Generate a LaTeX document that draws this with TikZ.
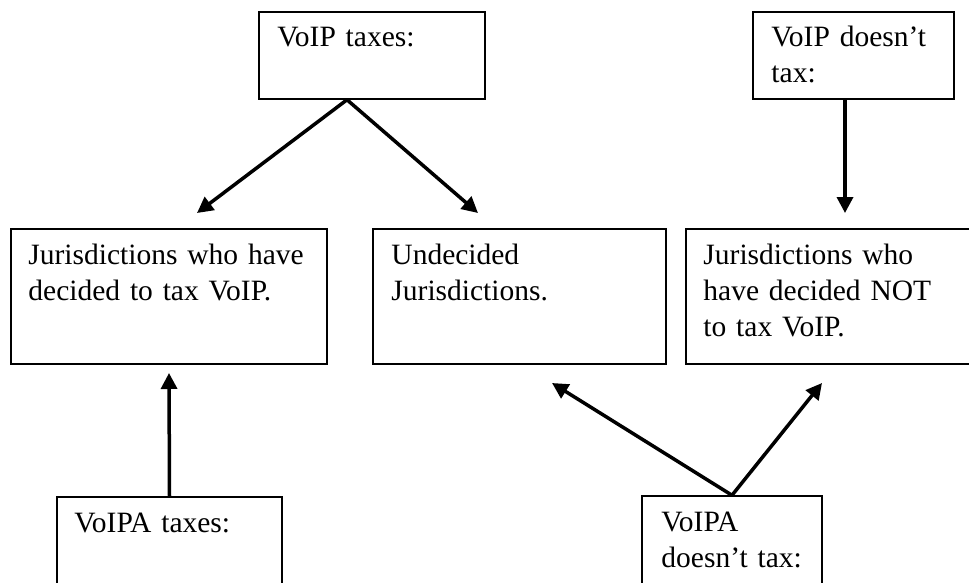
\documentclass[tikz,border=0pt]{standalone}
\usepackage{fontspec}
\setmainfont{Liberation Serif}
\usetikzlibrary{arrows.meta}
\begin{document}
\begin{tikzpicture}[x=1pt,y=-1pt,
    box/.style={draw,line width=1.5pt,rectangle,inner sep=0pt},
    txt/.style={anchor=base west,inner sep=0pt,align=left,text width=320pt,
      font=\fontsize{29.5}{36}\selectfont},
    arr/.style={line width=3.5pt,-{Triangle[length=16pt,width=16pt]}}]
      \useasboundingbox (0,0) rectangle (969,582);
      % top row
      \node[box,minimum width=226pt,minimum height=87pt] (vtax) at (372,55.5) {};
      \node[box,minimum width=201pt,minimum height=87pt] (vnotax) at (853.5,55.5) {};
      % middle row
      \node[box,minimum width=316pt,minimum height=135pt] (jtax) at (169,296.5) {};
      \node[box,minimum width=293pt,minimum height=135pt] (undec) at (519.5,296.5) {};
      \node[box,minimum width=299pt,minimum height=135pt] (jnotax) at (835.5,296.5) {};
      % bottom row
      \node[box,minimum width=225pt,minimum height=103pt] (atax) at (169.5,548.5) {};
      \node[box,minimum width=180pt,minimum height=104pt] (anotax) at (732,548) {};
      % texts
      \node[txt] (vtaxt) at ([xshift=19pt,yshift=-35pt]vtax.north west) {VoIP taxes:};
      \node[txt] (vnotaxt) at ([xshift=19pt,yshift=-35pt]vnotax.north west) {VoIP doesn't\\tax:};
      \node[txt] (jtaxt) at ([xshift=18pt,yshift=-36pt]jtax.north west) {Jurisdictions who have\\decided to tax VoIP.};
      \node[txt] (undect) at ([xshift=19pt,yshift=-36pt]undec.north west) {Undecided\\Jurisdictions.};
      \node[txt] (jnotaxt) at ([xshift=18pt,yshift=-36pt]jnotax.north west) {Jurisdictions who\\have decided NOT\\to tax VoIP.};
      \node[txt] (ataxt) at ([xshift=18pt,yshift=-36pt]atax.north west) {VoIPA taxes:};
      \node[txt] (anotaxt) at ([xshift=20pt,yshift=-36pt]anotax.north west) {VoIPA\\doesn't tax:};
      % arrow ends
      \coordinate (jtaxin) at (197,213);
      \coordinate (undecin) at (478,213);
      \coordinate (jnotaxin) at (845,213);
      \coordinate (jtaxup) at (169,373);
      \coordinate (undecup) at (552,383);
      \coordinate (jnotaxup) at (822,383);
      \draw[arr] ([xshift=-25pt]vtax.south) -- (jtaxin);
      \draw[arr] ([xshift=-25pt]vtax.south) -- (undecin);
      \draw[arr] ([xshift=-8.5pt]vnotax.south) -- (jnotaxin);
      \draw[arr] (atax.north) -- (jtaxup);
      \draw[arr] (anotax.north) -- (undecup);
      \draw[arr] (anotax.north) -- (jnotaxup);
\end{tikzpicture}
\end{document}
